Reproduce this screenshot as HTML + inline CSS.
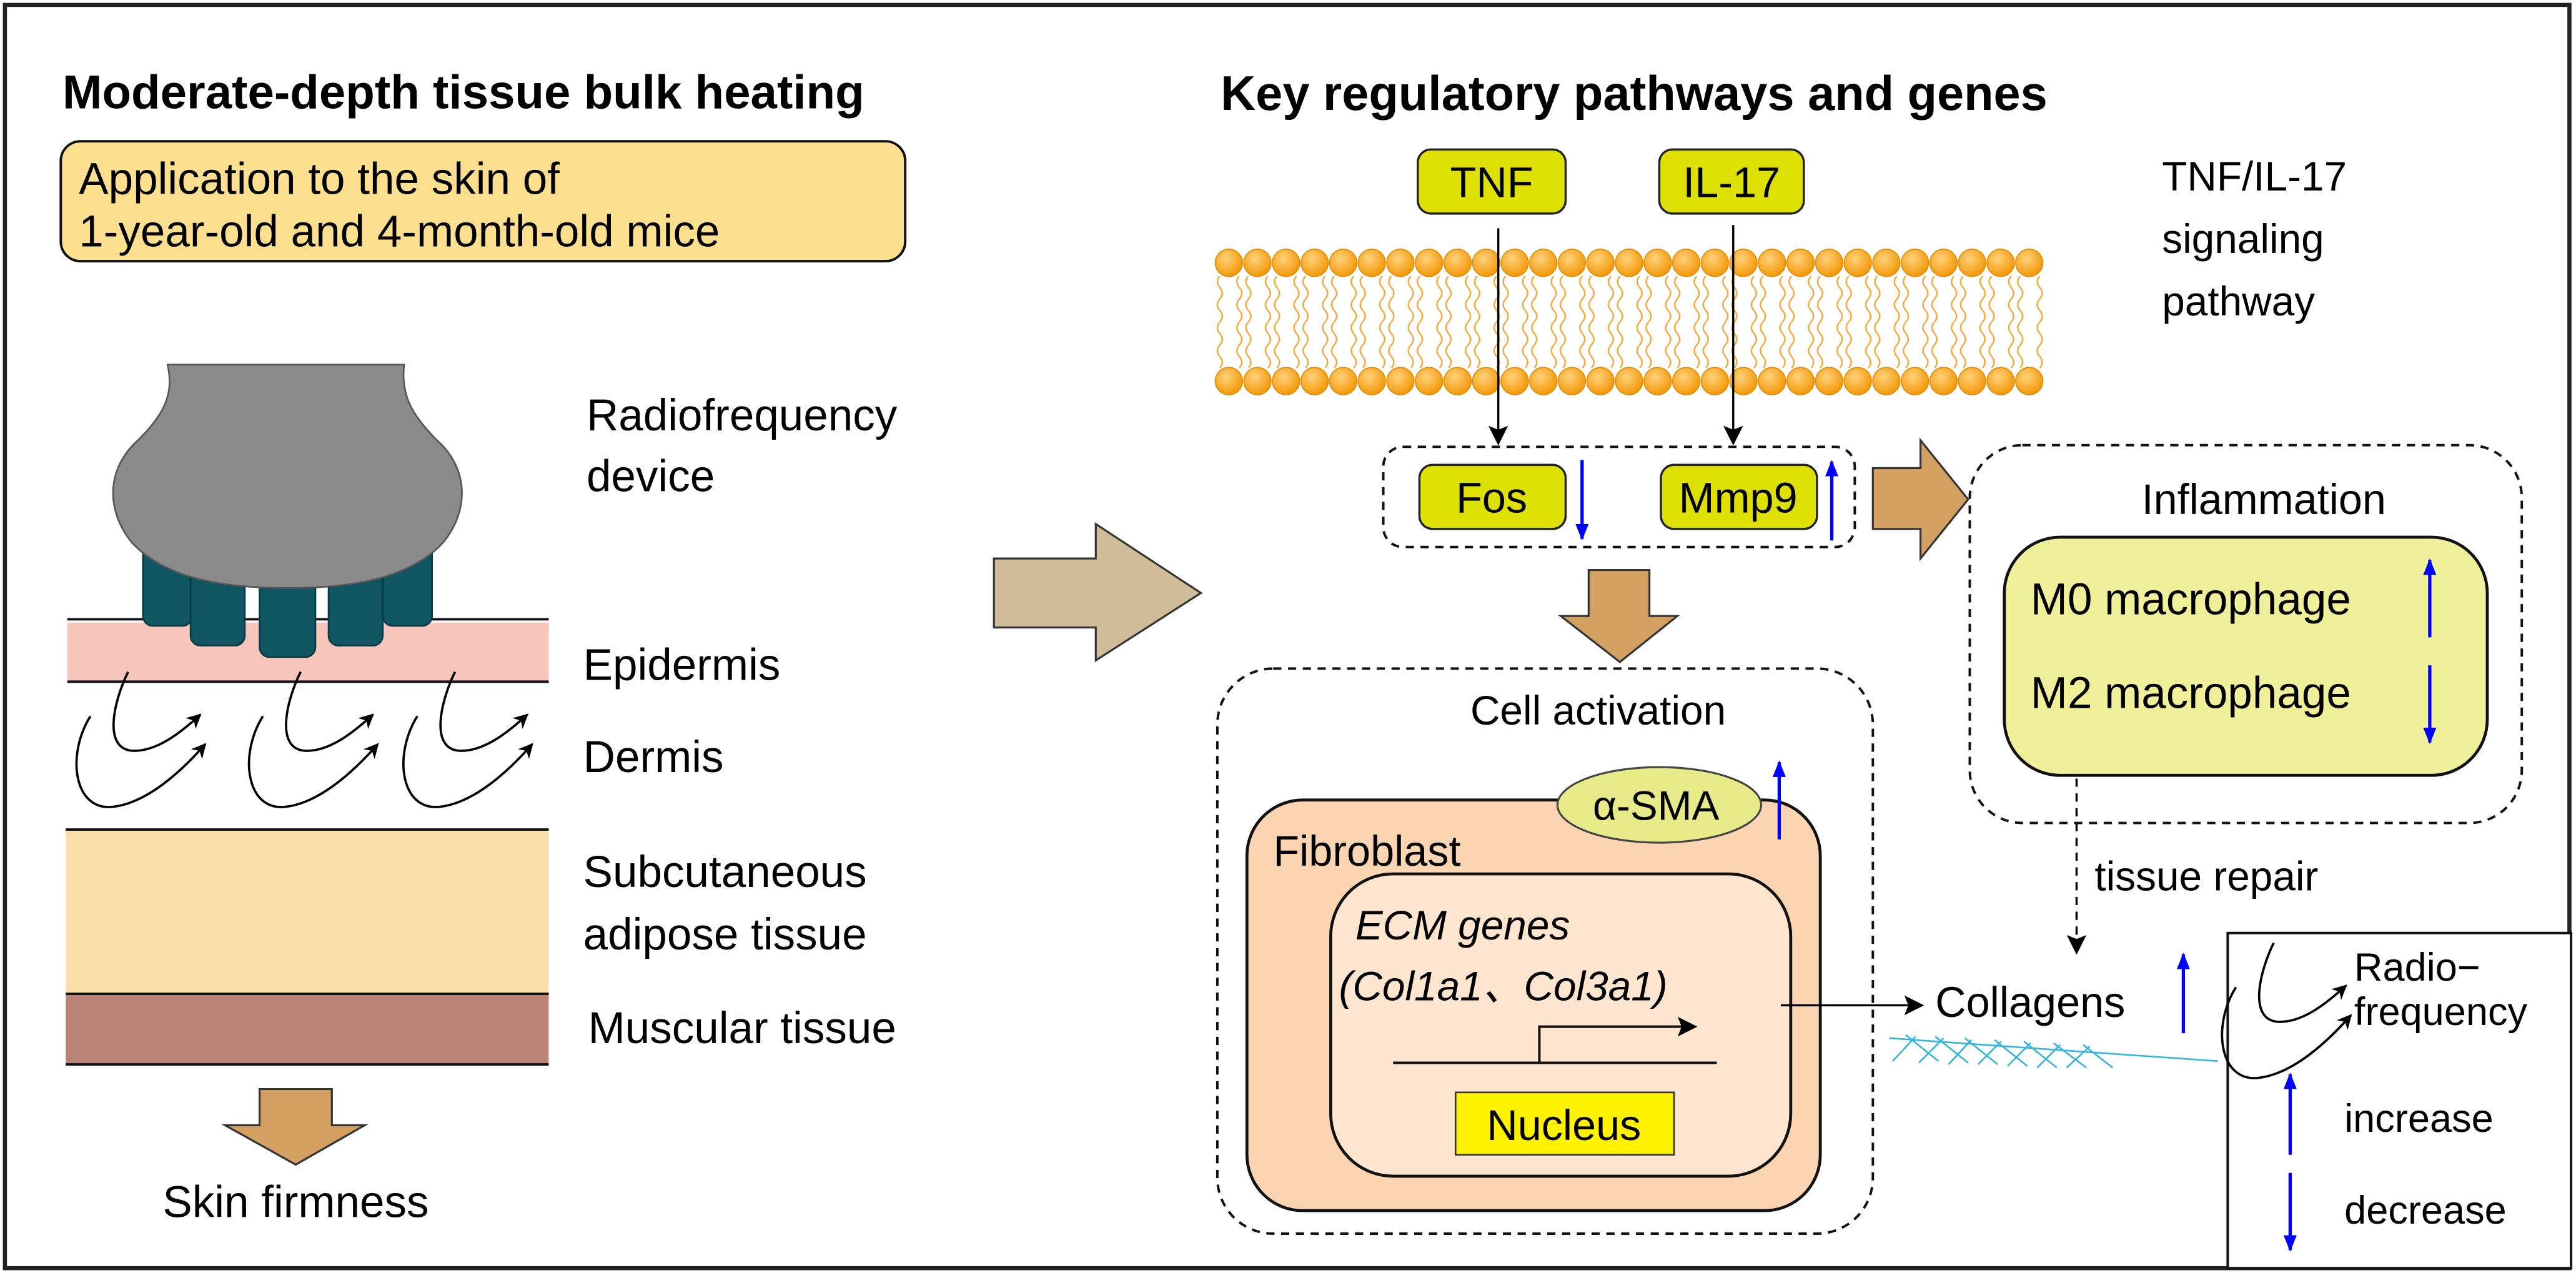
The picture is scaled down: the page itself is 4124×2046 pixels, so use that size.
<!DOCTYPE html>
<html><head><meta charset="utf-8"><style>
html,body{margin:0;padding:0;background:#fff;}
svg{display:block;font-family:"Liberation Sans",Arial,sans-serif;}
</style></head><body>
<svg width="4124" height="2046" viewBox="0 0 1568 778" preserveAspectRatio="none" xmlns="http://www.w3.org/2000/svg">
<defs>
<marker id="ah" viewBox="0 0 10 10" refX="9" refY="5" markerWidth="9" markerHeight="9" orient="auto-start-reverse" markerUnits="userSpaceOnUse"><path d="M0,0 L10,5 L0,10 L3,5 z" fill="#000"/></marker>
<marker id="ahb" viewBox="0 0 10 10" refX="9" refY="5" markerWidth="10" markerHeight="12" orient="auto" markerUnits="userSpaceOnUse"><path d="M0,1 L10,5 L0,9 z" fill="#00f"/></marker>
<marker id="ahl" viewBox="0 0 10 10" refX="9" refY="5" markerWidth="12" markerHeight="12" orient="auto" markerUnits="userSpaceOnUse"><path d="M0,0 L10,5 L0,10 L2,5 z" fill="#000"/></marker>
<radialGradient id="hg" cx="0.4" cy="0.35" r="0.7"><stop offset="0" stop-color="#ffd27a"/><stop offset="1" stop-color="#f29400"/></radialGradient>
<pattern id="tails" x="731" y="168" width="17.4" height="28" patternUnits="userSpaceOnUse">
<path d="M6,0 q-3,3.5 0,7 q3,3.5 0,7 q-3,3.5 0,7 q3,3.5 0,7 M11.5,0 q-3,3.5 0,7 q3,3.5 0,7 q-3,3.5 0,7 q3,3.5 0,7" fill="none" stroke="#f5a83a" stroke-width="0.9"/>
</pattern>
<g id="rf"><path d="M78,409 C70,425 62,455 80,457 C95,458 110,446 122,435" fill="none" stroke="#000" stroke-width="1.4" marker-end="url(#ah)"/><path d="M55,436 C40,460 45,495 70,491 C90,488 110,470 125,453" fill="none" stroke="#000" stroke-width="1.4" marker-end="url(#ah)"/></g>
</defs>
<rect x="3" y="3" width="1561" height="769" fill="#fff" stroke="#222" stroke-width="2.5"/>

<!-- LEFT -->
<text x="38" y="66" font-size="29" font-weight="bold">Moderate-depth tissue bulk heating</text>
<rect x="37" y="86" width="514" height="73" rx="12" fill="#fde08f" stroke="#111" stroke-width="1.5"/>
<text x="48" y="118" font-size="27">Application to the skin of</text>
<text x="48" y="150" font-size="27">1-year-old and 4-month-old mice</text>

<rect x="41" y="379" width="293" height="36" fill="#f8c5bd"/>
<line x1="41" y1="377" x2="334" y2="377" stroke="#111" stroke-width="1.5"/>
<line x1="41" y1="415" x2="334" y2="415" stroke="#111" stroke-width="1.5"/>
<g fill="#0f5562" stroke="#083a44" stroke-width="1">
<rect x="87" y="325" width="30" height="56" rx="6"/>
<rect x="233" y="325" width="30" height="56" rx="6"/>
<rect x="116" y="338" width="33" height="55" rx="6"/>
<rect x="200" y="338" width="33" height="55" rx="6"/>
<rect x="158" y="343" width="34" height="57" rx="6"/>
</g>
<path d="M102,222 L246,222 C244,240 250,252 266,268 C285,285 286,310 270,330 C250,352 215,358 175,358 C135,358 100,352 80,330 C64,310 65,285 84,268 C100,252 106,240 102,222 Z" fill="#8a8a8a" stroke="#555" stroke-width="1"/>
<use href="#rf"/><use href="#rf" x="105"/><use href="#rf" x="199"/>
<rect x="40" y="505" width="294" height="100" fill="#fbdfa9"/>
<rect x="40" y="605" width="294" height="43" fill="#bb8278"/>
<line x1="40" y1="505" x2="334" y2="505" stroke="#111" stroke-width="1.5"/>
<line x1="40" y1="605" x2="334" y2="605" stroke="#111" stroke-width="1.5"/>
<line x1="40" y1="648" x2="334" y2="648" stroke="#111" stroke-width="1.5"/>
<g font-size="27">
<text x="357" y="262">Radiofrequency</text>
<text x="357" y="299">device</text>
<text x="355" y="414">Epidermis</text>
<text x="355" y="470">Dermis</text>
<text x="355" y="540">Subcutaneous</text>
<text x="355" y="578">adipose tissue</text>
<text x="358" y="635">Muscular tissue</text>
<text x="99" y="741">Skin firmness</text>
</g>
<path d="M158,663 L202,663 L202,685 L222,685 L180,709 L137,685 L158,685 Z" fill="#d4a062" stroke="#333" stroke-width="1.2"/>
<path d="M605,340 L667,340 L667,319 L731,361 L667,402 L667,382 L605,382 Z" fill="#d0bc98" stroke="#333" stroke-width="1.2"/>

<!-- RIGHT -->
<text x="743" y="67" font-size="29.5" font-weight="bold">Key regulatory pathways and genes</text>
<rect x="739" y="168" width="506" height="56" fill="url(#tails)"/>
<g fill="url(#hg)" stroke="#e58b00" stroke-width="0.6">
<circle cx="748" cy="160" r="8.3"/><circle cx="765.4" cy="160" r="8.3"/><circle cx="782.8" cy="160" r="8.3"/><circle cx="800.2" cy="160" r="8.3"/><circle cx="817.6" cy="160" r="8.3"/><circle cx="835" cy="160" r="8.3"/><circle cx="852.4" cy="160" r="8.3"/><circle cx="869.8" cy="160" r="8.3"/><circle cx="887.2" cy="160" r="8.3"/><circle cx="904.6" cy="160" r="8.3"/><circle cx="922" cy="160" r="8.3"/><circle cx="939.4" cy="160" r="8.3"/><circle cx="956.8" cy="160" r="8.3"/><circle cx="974.2" cy="160" r="8.3"/><circle cx="991.6" cy="160" r="8.3"/><circle cx="1009" cy="160" r="8.3"/><circle cx="1026.4" cy="160" r="8.3"/><circle cx="1043.8" cy="160" r="8.3"/><circle cx="1061.2" cy="160" r="8.3"/><circle cx="1078.6" cy="160" r="8.3"/><circle cx="1096" cy="160" r="8.3"/><circle cx="1113.4" cy="160" r="8.3"/><circle cx="1130.8" cy="160" r="8.3"/><circle cx="1148.2" cy="160" r="8.3"/><circle cx="1165.6" cy="160" r="8.3"/><circle cx="1183" cy="160" r="8.3"/><circle cx="1200.4" cy="160" r="8.3"/><circle cx="1217.8" cy="160" r="8.3"/><circle cx="1235.2" cy="160" r="8.3"/>
<circle cx="748" cy="232" r="8.3"/><circle cx="765.4" cy="232" r="8.3"/><circle cx="782.8" cy="232" r="8.3"/><circle cx="800.2" cy="232" r="8.3"/><circle cx="817.6" cy="232" r="8.3"/><circle cx="835" cy="232" r="8.3"/><circle cx="852.4" cy="232" r="8.3"/><circle cx="869.8" cy="232" r="8.3"/><circle cx="887.2" cy="232" r="8.3"/><circle cx="904.6" cy="232" r="8.3"/><circle cx="922" cy="232" r="8.3"/><circle cx="939.4" cy="232" r="8.3"/><circle cx="956.8" cy="232" r="8.3"/><circle cx="974.2" cy="232" r="8.3"/><circle cx="991.6" cy="232" r="8.3"/><circle cx="1009" cy="232" r="8.3"/><circle cx="1026.4" cy="232" r="8.3"/><circle cx="1043.8" cy="232" r="8.3"/><circle cx="1061.2" cy="232" r="8.3"/><circle cx="1078.6" cy="232" r="8.3"/><circle cx="1096" cy="232" r="8.3"/><circle cx="1113.4" cy="232" r="8.3"/><circle cx="1130.8" cy="232" r="8.3"/><circle cx="1148.2" cy="232" r="8.3"/><circle cx="1165.6" cy="232" r="8.3"/><circle cx="1183" cy="232" r="8.3"/><circle cx="1200.4" cy="232" r="8.3"/><circle cx="1217.8" cy="232" r="8.3"/><circle cx="1235.2" cy="232" r="8.3"/>
</g>
<rect x="863" y="91" width="90" height="39" rx="8" fill="#dde000" stroke="#222" stroke-width="1.3"/>
<rect x="1010" y="91" width="88" height="39" rx="8" fill="#dde000" stroke="#222" stroke-width="1.3"/>
<text x="908" y="120" font-size="26" text-anchor="middle">TNF</text>
<text x="1054" y="120" font-size="26" text-anchor="middle">IL-17</text>
<g font-size="25"><text x="1316" y="116">TNF/IL-17</text><text x="1316" y="154">signaling</text><text x="1316" y="192">pathway</text></g>
<line x1="912" y1="139" x2="912" y2="270" stroke="#000" stroke-width="1.3" marker-end="url(#ahl)"/>
<line x1="1055" y1="137" x2="1055" y2="270" stroke="#000" stroke-width="1.3" marker-end="url(#ahl)"/>

<rect x="842" y="272" width="287" height="61" rx="12" fill="none" stroke="#111" stroke-width="1.5" stroke-dasharray="5,4"/>
<rect x="864" y="283" width="89" height="39" rx="8" fill="#dde000" stroke="#222" stroke-width="1.3"/>
<rect x="1011" y="283" width="95" height="39" rx="8" fill="#dde000" stroke="#222" stroke-width="1.3"/>
<text x="908" y="312" font-size="26" text-anchor="middle">Fos</text>
<text x="1058" y="312" font-size="26" text-anchor="middle">Mmp9</text>
<line x1="963" y1="280" x2="963" y2="328" stroke="#00f" stroke-width="2" marker-end="url(#ahb)"/>
<line x1="1115" y1="329" x2="1115" y2="281" stroke="#00f" stroke-width="2" marker-end="url(#ahb)"/>
<path d="M1140,285 L1169,285 L1169,268 L1198,304 L1169,340 L1169,322 L1140,322 Z" fill="#d4a062" stroke="#333" stroke-width="1.2"/>
<path d="M967,347 L1004,347 L1004,375 L1021,375 L986,403 L950,375 L967,375 Z" fill="#d4a062" stroke="#333" stroke-width="1.2"/>

<rect x="1199" y="271" width="336" height="230" rx="32" fill="none" stroke="#111" stroke-width="1.5" stroke-dasharray="5,4"/>
<text x="1378" y="313" font-size="26" text-anchor="middle">Inflammation</text>
<rect x="1220" y="327" width="294" height="145" rx="34" fill="#f0f09a" stroke="#111" stroke-width="1.8"/>
<text x="1236" y="374" font-size="27">M0 macrophage</text>
<text x="1236" y="431" font-size="27">M2 macrophage</text>
<line x1="1479" y1="388" x2="1479" y2="341" stroke="#00f" stroke-width="2" marker-end="url(#ahb)"/>
<line x1="1479" y1="405" x2="1479" y2="452" stroke="#00f" stroke-width="2" marker-end="url(#ahb)"/>
<line x1="1264" y1="474" x2="1264" y2="580" stroke="#000" stroke-width="1.3" stroke-dasharray="5,4" marker-end="url(#ahl)"/>
<text x="1275" y="542" font-size="25">tissue repair</text>

<rect x="741" y="407" width="399" height="344" rx="34" fill="none" stroke="#111" stroke-width="1.5" stroke-dasharray="5,4"/>
<text x="895" y="441" font-size="25">Cell activation</text>
<rect x="759" y="487" width="349" height="250" rx="34" fill="#fbd4b2" stroke="#111" stroke-width="1.8"/>
<ellipse cx="1010" cy="490" rx="62" ry="23" fill="#e6ea88" stroke="#444" stroke-width="1.2"/>
<text x="1008" y="499" font-size="25" text-anchor="middle">α-SMA</text>
<line x1="1083" y1="511" x2="1083" y2="464" stroke="#00f" stroke-width="2" marker-end="url(#ahb)"/>
<text x="775" y="527" font-size="26">Fibroblast</text>
<rect x="810" y="532" width="280" height="184" rx="38" fill="#fde5cf" stroke="#111" stroke-width="1.8"/>
<text x="825" y="572" font-size="25" font-style="italic">ECM genes</text>
<text x="815" y="609" font-size="25" font-style="italic">(Col1a1、Col3a1)</text>
<line x1="848" y1="647" x2="1045" y2="647" stroke="#111" stroke-width="1.5"/>
<path d="M937,647 L937,625 L1032,625" fill="none" stroke="#111" stroke-width="1.5" marker-end="url(#ahl)"/>
<rect x="886" y="665" width="133" height="38" fill="#fff200" stroke="#333" stroke-width="1"/>
<text x="952" y="694" font-size="26" text-anchor="middle">Nucleus</text>
<line x1="1084" y1="612" x2="1170" y2="612" stroke="#000" stroke-width="1.3" marker-end="url(#ahl)"/>
<text x="1178" y="619" font-size="26">Collagens</text>
<line x1="1329" y1="629" x2="1329" y2="581" stroke="#00f" stroke-width="2" marker-end="url(#ahb)"/>
<g stroke="#35b6d8" stroke-width="1" fill="none">
<path d="M1150,632 L1350,646"/>
<path d="M1152,646 L1166,631 M1168,647 L1183,632 M1186,648 L1200,633 M1204,648 L1218,634 M1222,649 L1236,635 M1240,650 L1254,636 M1258,650 L1272,637"/>
<path d="M1160,630 L1180,646 M1178,631 L1198,647 M1196,632 L1216,648 M1214,633 L1234,649 M1232,634 L1252,650 M1250,635 L1270,650 M1268,636 L1286,650"/>
</g>

<rect x="1356" y="568" width="209" height="204" fill="#fff" stroke="#111" stroke-width="1.5"/>
<g transform="translate(1306,165)"><use href="#rf"/></g>
<text x="1433" y="597" font-size="24">Radio−</text>
<text x="1433" y="624" font-size="24">frequency</text>
<line x1="1394" y1="703" x2="1394" y2="654" stroke="#00f" stroke-width="2" marker-end="url(#ahb)"/>
<text x="1427" y="689" font-size="24">increase</text>
<line x1="1394" y1="714" x2="1394" y2="761" stroke="#00f" stroke-width="2" marker-end="url(#ahb)"/>
<text x="1427" y="745" font-size="24">decrease</text>
</svg>
</body></html>
